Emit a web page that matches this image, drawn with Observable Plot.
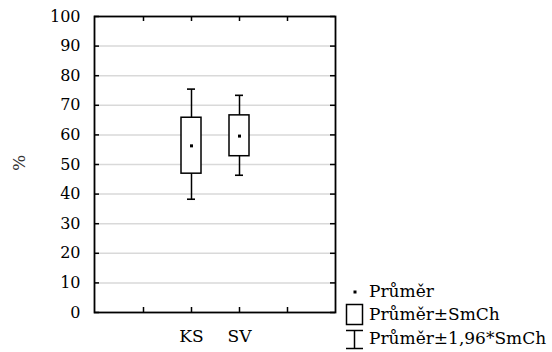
<!DOCTYPE html>
<html>
<head>
<meta charset="utf-8">
<script src="https://cdn.jsdelivr.net/npm/d3@7"></script>
<script src="https://cdn.jsdelivr.net/npm/@observablehq/plot@0.6"></script>
<style>
  html, body { margin: 0; padding: 0; background: white; }
  #chart { position: relative; width: 552px; height: 352px; overflow: hidden; }
</style>
</head>
<body>
<div id="chart"></div>
<script>
// ---- data ----
const categories = ["KS", "SV"];
const means   = [56.3, 59.6];
const seLow   = [46.9, 52.8];
const seHigh  = [65.8, 66.6];
const ciLow   = [38.1, 46.2];
const ciHigh  = [75.3, 73.2];
const xSlots  = ["_a", "KS", "SV", "_b"];
const yTicks  = [0, 10, 20, 30, 40, 50, 60, 70, 80, 90, 100];
const gridValues = [10, 20, 30, 40, 50, 60, 70, 80, 90];
const yLabel = "%";
const legendLabels = ["Průměr", "Průměr±SmCh", "Průměr±1,96*SmCh"];

const data = categories.map((c, i) => ({
  cat: c, mean: means[i], seLow: seLow[i], seHigh: seHigh[i], ciLow: ciLow[i], ciHigh: ciHigh[i]
}));

const W = 552, H = 352;
const mL = 94, mR = 217, mT = 16, mB = 40;
const innerW = W - mL - mR, innerH = H - mT - mB;
const tickLen = 5;
const font = "DejaVu Serif";

const svg = Plot.plot({
  width: W, height: H,
  marginLeft: mL, marginRight: mR, marginTop: mT, marginBottom: mB,
  style: { fontFamily: font, fontSize: "17px", color: "black", background: "white" },
  x: { type: "point", domain: xSlots, padding: 1 },
  y: { domain: [0, 100] },
  marks: [
    Plot.ruleY(gridValues, { stroke: "#d9d9d9", strokeWidth: 1.5 }),
    Plot.ruleY(yTicks, { insetRight: innerW - tickLen, stroke: "black", strokeWidth: 1.5 }),
    Plot.ruleY(yTicks, { insetLeft: innerW - tickLen, stroke: "black", strokeWidth: 1.5 }),
    Plot.ruleX(xSlots, { insetBottom: innerH - tickLen, stroke: "black", strokeWidth: 1.5 }),
    Plot.ruleX(xSlots, { insetTop: innerH - tickLen, stroke: "black", strokeWidth: 1.5 }),
    Plot.frame({ stroke: "black", strokeWidth: 1.8 }),
    Plot.ruleX(data, { x: "cat", y1: "ciLow", y2: "ciHigh", stroke: "black", strokeWidth: 1.5 }),
    Plot.rect(data, { x1: "cat", x2: "cat", y1: "ciHigh", y2: "ciHigh", insetLeft: -4, insetRight: -4, insetTop: -0.8, insetBottom: -0.8, fill: "black" }),
    Plot.rect(data, { x1: "cat", x2: "cat", y1: "ciLow", y2: "ciLow", insetLeft: -4, insetRight: -4, insetTop: -0.8, insetBottom: -0.8, fill: "black" }),
    Plot.rect(data, { x1: "cat", x2: "cat", y1: "seLow", y2: "seHigh", insetLeft: -10, insetRight: -10, fill: "white", stroke: "black", strokeWidth: 1.5 }),
    Plot.dot(data, { x: "cat", y: "mean", symbol: "square", r: 1.7, fill: "black", stroke: "none" }),
    Plot.axisY({ ticks: yTicks, tickSize: 0, tickPadding: 14, label: null, fontSize: 16, fontFamily: font }),
    Plot.axisX({ tickSize: 0, tickPadding: 17, label: null, fontSize: 17, fontFamily: font,
                 tickFormat: d => d.startsWith("_") ? "" : d })
  ]
});
document.getElementById("chart").appendChild(svg);

const s = d3.select(svg);

// y-axis label
s.append("text")
  .attr("transform", "translate(25,163) rotate(-90)")
  .attr("text-anchor", "middle")
  .style("font-family", font).attr("font-size", 17).attr("fill", "#333")
  .text(yLabel);

// legend
const lg = s.append("g").attr("font-size", 17).attr("fill", "black")
  .attr("text-anchor", "start");
lg.append("rect").attr("x", 353.5).attr("y", 290.5).attr("width", 3).attr("height", 3).attr("fill", "black");
lg.append("rect").attr("x", 346.5).attr("y", 304.5).attr("width", 16).attr("height", 20)
  .attr("fill", "white").attr("stroke", "black").attr("stroke-width", 1.5);
lg.append("line").attr("x1", 346).attr("x2", 363).attr("y1", 330.5).attr("y2", 330.5).attr("stroke", "black").attr("stroke-width", 1.5);
lg.append("line").attr("x1", 346).attr("x2", 363).attr("y1", 348.5).attr("y2", 348.5).attr("stroke", "black").attr("stroke-width", 1.5);
lg.append("line").attr("x1", 354.5).attr("x2", 354.5).attr("y1", 330.5).attr("y2", 348.5).attr("stroke", "black").attr("stroke-width", 1.5);
const ly = [297, 320, 344];
legendLabels.forEach((t, i) => {
  lg.append("text").attr("x", 369).attr("y", ly[i]).attr("text-anchor", "start")
    .style("font-family", font).text(t);
});
</script>
</body>
</html>
